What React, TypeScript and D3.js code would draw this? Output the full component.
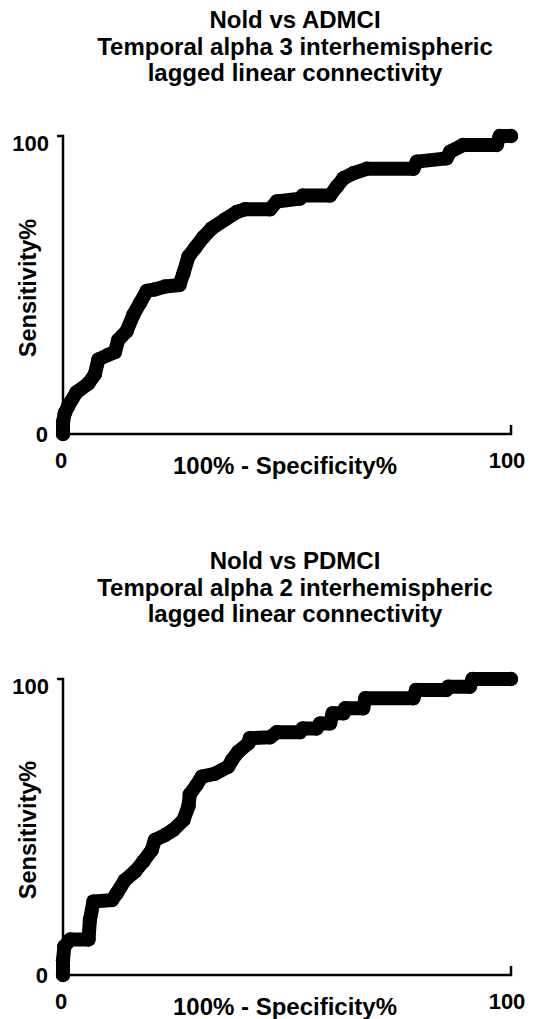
import React from "react";
import * as d3 from "d3";

const titleADMCI = ["Nold vs ADMCI", "Temporal alpha 3 interhemispheric", "lagged linear connectivity"];
const titlePDMCI = ["Nold vs PDMCI", "Temporal alpha 2 interhemispheric", "lagged linear connectivity"];
const xTickLabels = ["0", "100"];
const yTickLabels = ["0", "100"];
const xAxisTitle = "100% - Specificity%";
const yAxisTitle = "Sensitivity%";

// [100% - Specificity%, Sensitivity%]
const rocADMCI: [number, number][] = [
  [0, 0], [0, 4], [0.4, 7], [1.2, 9.5], [3, 14], [5.7, 17], [7.1, 20], [7.9, 25], [10, 26.5], [11.6, 27.5],
  [12.3, 31.5], [14.2, 34.5], [15.7, 40], [17.2, 44], [18.7, 48], [20.5, 48.5], [22.8, 49.5], [26, 50],
  [26.9, 54], [28, 59.5], [29.5, 62.5], [31.3, 66], [33.2, 69], [36.2, 72], [38.8, 74.5], [40.6, 75.4],
  [46.2, 75.4], [47.7, 78], [52.9, 79], [53.5, 80], [59.6, 80], [61.1, 83], [62.6, 85.8], [64.8, 87.5],
  [67.8, 89], [78.2, 89], [79, 91.4], [85.6, 92.5], [86.4, 94.7], [89.3, 97], [96.8, 97], [97.5, 100], [100, 100],
];

const rocPDMCI: [number, number][] = [
  [0, 0], [0, 5], [0.3, 9.6], [1.6, 12], [5.7, 12], [6, 18.6], [6.8, 24.8], [10.9, 25.3], [12, 27.6],
  [13.8, 32], [16.1, 35], [17.9, 38.3], [19.8, 42.2], [20.5, 45.6], [22.8, 47.3], [24.6, 49], [26.9, 52.4],
  [28, 57], [28.3, 61], [29.8, 64.2], [31, 67], [33.9, 68], [36.9, 70.4], [37.7, 72.6], [39.1, 75.4],
  [41.4, 78.3], [41.7, 80], [46.2, 80.3], [47.7, 82], [52.9, 82], [53.5, 83.3], [56.6, 83.3], [57.4, 85],
  [59.6, 85], [60.2, 88.4], [62.6, 88.4], [63, 90.1], [67, 90.1], [67.5, 93.5], [78.2, 93.5], [78.8, 96.3],
  [85.6, 96.3], [86, 97.4], [90.8, 97.4], [91.4, 100], [100, 100],
];

const FONT = "'Liberation Sans', Arial, Helvetica, sans-serif";

type PanelProps = {
  title: string[];
  data: [number, number][];
  titleY: number;
  plotTop: number;
  plotBottom: number;
};

function Panel({ title, data, titleY, plotTop, plotBottom }: PanelProps) {
  const x = d3.scaleLinear().domain([0, 100]).range([63, 511]);
  const y = d3.scaleLinear().domain([0, 100]).range([plotBottom, plotTop]);
  const line = d3
    .line<[number, number]>()
    .x((d) => x(d[0]))
    .y((d) => y(d[1]));
  const x0 = x(0);
  const x1 = x(100);
  const y0 = y(0);
  const y1 = y(100);
  return (
    <g>
      {title.map((t, i) => (
        <text
          key={i}
          x={295}
          y={titleY + i * 26.5}
          textAnchor="middle"
          fontFamily={FONT}
          fontWeight="bold"
          fontSize={24}
          fill="#000"
        >
          {t}
        </text>
      ))}
      {/* axes */}
      <path
        d={`M${x0 - 6},${y1}H${x0}V${y0}H${x1}V${y0 - 9}`}
        fill="none"
        stroke="#000"
        strokeWidth={2.5}
      />
      {/* y tick labels */}
      <text x={x0 - 14} y={y(100)} dy="0.68em" textAnchor="end" fontFamily={FONT} fontWeight="bold" fontSize={22}>
        {yTickLabels[1]}
      </text>
      <text x={x0 - 15} y={y(0)} dy="0.38em" textAnchor="end" fontFamily={FONT} fontWeight="bold" fontSize={22}>
        {yTickLabels[0]}
      </text>
      {/* x tick labels */}
      <text x={x(0) - 2} y={y0 + 34} textAnchor="middle" fontFamily={FONT} fontWeight="bold" fontSize={22}>
        {xTickLabels[0]}
      </text>
      <text x={x(100) - 4} y={y0 + 34} textAnchor="middle" fontFamily={FONT} fontWeight="bold" fontSize={22}>
        {xTickLabels[1]}
      </text>
      <text x={285} y={y0 + 40} textAnchor="middle" fontFamily={FONT} fontWeight="bold" fontSize={24}>
        {xAxisTitle}
      </text>
      <text
        transform={`translate(36,${(y0 + y1) / 2 + 3}) rotate(-90)`}
        textAnchor="middle"
        fontFamily={FONT}
        fontWeight="bold"
        fontSize={23.5}
      >
        {yAxisTitle}
      </text>
      {/* ROC curve */}
      <path
        d={line(data) || ""}
        fill="none"
        stroke="#000"
        strokeWidth={14}
        strokeLinejoin="round"
        strokeLinecap="round"
      />
      {data.map((d, i) => (
        <circle key={i} cx={x(d[0])} cy={y(d[1])} r={7.2} fill="#000" />
      ))}
    </g>
  );
}

export default function App() {
  return (
    <svg
      width={533}
      height={1019}
      style={{ position: "absolute", left: 0, top: 0, background: "#fff" }}
    >
      <rect width={533} height={1019} fill="#fff" />
      <Panel title={titleADMCI} data={rocADMCI} titleY={28} plotTop={136} plotBottom={434} />
      <Panel title={titlePDMCI} data={rocPDMCI} titleY={569} plotTop={679} plotBottom={975} />
    </svg>
  );
}
